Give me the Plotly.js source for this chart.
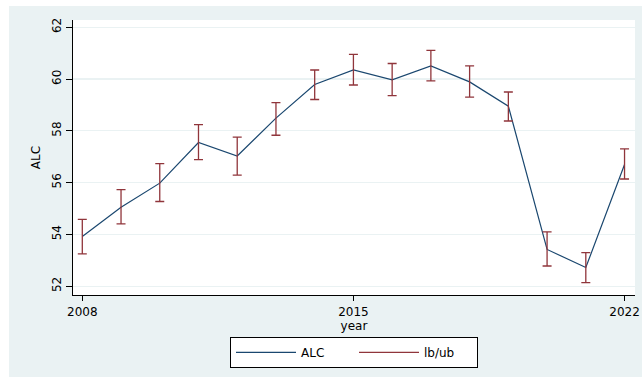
<!DOCTYPE html>
<html>
<head>
<meta charset="utf-8">
<script src="https://cdn.plot.ly/plotly-3.0.1.min.js"></script>
<style>html,body{margin:0;padding:0;background:#fff;}#chart{width:642px;height:377px;}</style>
</head>
<body>
<div id="chart"></div>
<script>
const years = [2008, 2009, 2010, 2011, 2012, 2013, 2014, 2015, 2016, 2017, 2018, 2019, 2020, 2021, 2022];
const alc = [53.92, 55.05, 55.98, 57.55, 57.03, 58.49, 59.79, 60.35, 59.97, 60.51, 59.89, 58.95, 53.42, 52.72, 56.7];
const lb  = [53.25, 54.41, 55.27, 56.89, 56.29, 57.83, 59.21, 59.77, 59.36, 59.93, 59.30, 58.38, 52.78, 52.14, 56.14];
const ub  = [54.58, 55.73, 56.73, 58.24, 57.76, 59.09, 60.35, 60.95, 60.60, 61.11, 60.51, 59.50, 54.10, 53.30, 57.30];
const xTicks = [2008, 2015, 2022];
const yTicks = [52, 54, 56, 58, 60, 62];

const navy = '#1a476f';
const red = '#90353b';
const bg = '#eaf2f3';
const font = {family: 'DejaVu Sans, sans-serif', size: 12, color: '#000'};

const mid = lb.map((l, i) => (l + ub[i]) / 2);

const traces = [
  {
    x: years, y: alc, type: 'scatter', mode: 'lines', name: 'ALC',
    line: {color: navy, width: 1.2}
  },
  {
    x: years, y: mid, type: 'scatter', mode: 'markers', name: 'lb/ub',
    showlegend: false, hoverinfo: 'skip',
    marker: {size: 1, opacity: 0},
    error_y: {
      type: 'data', symmetric: false,
      array: ub.map((u, i) => u - mid[i]),
      arrayminus: lb.map((l, i) => mid[i] - l),
      color: red, thickness: 1.3, width: 4.5
    }
  },
  {
    x: [null], y: [null], type: 'scatter', mode: 'lines', name: 'lb/ub',
    line: {color: red, width: 1.3}
  }
];

const layout = {
  width: 642, height: 377,
  margin: {l: 73, r: 7, t: 20, b: 82.3},
  paper_bgcolor: '#ffffff',
  plot_bgcolor: '#ffffff',
  font: font,
  showlegend: true,
  shapes: [
    {type: 'rect', xref: 'paper', yref: 'paper', x0: -0.1139, x1: 1.02, y0: -0.31, y1: 1.051,
     fillcolor: bg, line: {width: 0}, layer: 'below'},
    {type: 'rect', xref: 'paper', yref: 'paper', x0: 0, x1: 1, y0: 0, y1: 1,
     fillcolor: '#ffffff', line: {width: 0}, layer: 'below'}
  ],
  xaxis: {
    range: [2007.76, 2022.27],
    tickvals: xTicks, ticktext: xTicks.map(String),
    ticks: 'outside', ticklen: 5, tickcolor: '#000', tickwidth: 1,
    showgrid: false, zeroline: false,
    showline: true, linecolor: '#000', linewidth: 1.3,
    tickfont: {family: 'DejaVu Sans, sans-serif', size: 12, color: '#000'},
    title: {text: 'year', font: {family: 'DejaVu Sans, sans-serif', size: 12, color: '#000'}, standoff: 1}
  },
  yaxis: {
    range: [51.66, 62.28],
    tickvals: yTicks, ticktext: yTicks.map(String),
    tickangle: -90,
    ticks: 'outside', ticklen: 6, tickcolor: '#000', tickwidth: 1,
    showgrid: true, gridcolor: bg, gridwidth: 1.3,
    zeroline: false,
    showline: true, linecolor: '#000', linewidth: 1.3,
    tickfont: {family: 'DejaVu Sans, sans-serif', size: 12, color: '#000'},
    title: {text: 'ALC', font: {family: 'DejaVu Sans, sans-serif', size: 12, color: '#000'}, standoff: 6}
  },
  legend: {
    orientation: 'h', x: 0.5, xanchor: 'center', y: -0.152, yanchor: 'top',
    bgcolor: '#ffffff', bordercolor: '#000', borderwidth: 1,
    font: {family: 'DejaVu Sans, sans-serif', size: 12, color: '#000'},
    itemwidth: 60, entrywidth: 48, entrywidthmode: 'pixels'
  }
};

Plotly.newPlot('chart', traces, layout, {displayModeBar: false, staticPlot: true});
</script>
</body>
</html>
